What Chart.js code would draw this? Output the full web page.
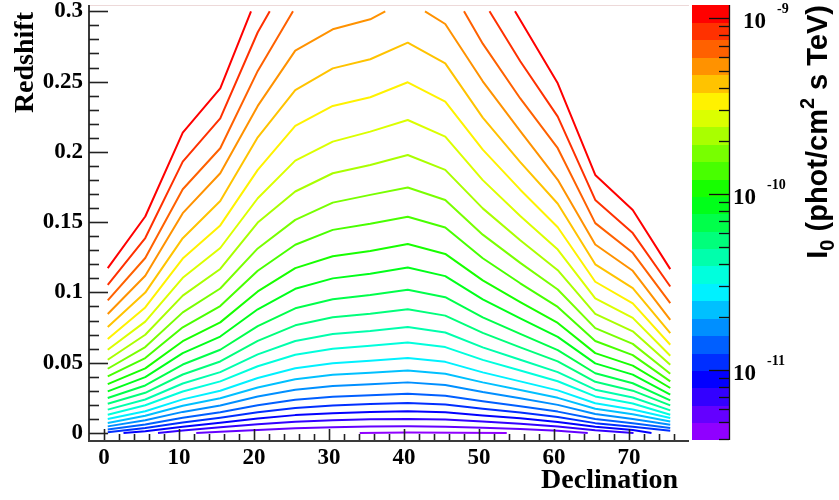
<!DOCTYPE html>
<html><head><meta charset="utf-8">
<script src="https://cdn.jsdelivr.net/npm/chart.js@4.4.1/dist/chart.umd.min.js"></script>
<style>html,body{margin:0;padding:0;background:#fff}</style>
</head><body>
<canvas id="c" width="839" height="500"></canvas>
<script>
// ---------------- DATA ----------------
const declNodes = [0.5,5.5,10.5,15.5,20.5,25.5,30.5,35.5,40.5,45.5,50.5,55.5,60.5,65.5,70.5,75.5];
const xTicks = [0,10,20,30,40,50,60,70];
const yTicks = [0,0.05,0.1,0.15,0.2,0.25,0.3];
const yTickLabels = ['0','0.05','0.1','0.15','0.2','0.25','0.3'];
const cbMajorTicks = [1e-11,1e-10,1e-9];
const cbExponents = ['-11','-10','-9'];
const cbMinorTicks = [4e-12,5e-12,6e-12,7e-12,8e-12,9e-12,2e-11,3e-11,4e-11,5e-11,6e-11,7e-11,8e-11,9e-11,2e-10,3e-10,4e-10,5e-10,6e-10,7e-10,8e-10,9e-10];
// contour levels of I0 (phot/cm^2 s TeV), bottom to top (26 edges, 25 bands)
const levels = [3.97e-12,4.99e-12,6.27e-12,7.87e-12,9.89e-12,1.242e-11,1.563e-11,1.963e-11,2.466e-11,3.097e-11,3.89e-11,4.89e-11,6.14e-11,7.71e-11,9.68e-11,1.216e-10,1.528e-10,1.919e-10,2.41e-10,3.03e-10,3.80e-10,4.78e-10,6.01e-10,7.55e-10,9.48e-10,1.191e-9];

// contour lines, highest level first: [declination, redshift] pairs (null = break)
const contour01 = [[0.5,.1173],[5.5,.154],[10.5,.2137],[15.5,.2452],[19.6,.3],[37,null],[54.8,.3],[60.5,.2488],[65.5,.1836],[70.5,.1587],[75.5,.1166]];
const contour02 = [[0.5,.1054],[5.5,.1387],[10.5,.1931],[15.5,.2239],[20.5,.2851],[22.1,.3],[37,null],[51.4,.3],[55.5,.2645],[60.5,.2251],[65.5,.1658],[70.5,.1422],[75.5,.1042]];
const contour03 = [[0.5,.0943],[5.5,.1245],[10.5,.1734],[15.5,.2026],[20.5,.2576],[25.2,.3],[37,null],[48.0,.3],[50.5,.277],[55.5,.238],[60.5,.2026],[65.5,.1493],[70.5,.1282],[75.5,.0924]];
const contour04 = [[0.5,.0846],[5.5,.1119],[10.5,.1564],[15.5,.1848],[20.5,.2327],[25.5,.2720],[30.5,.2872],[35.5,.2943],[37.5,.3],[40,null],[42.8,.3],[45.5,.291],[50.5,.2502],[55.5,.2148],[60.5,.1801],[65.5,.1341],[70.5,.1154],[75.5,.0805]];
// values at declNodes
const contour05 = [.0754,.0999,.1386,.1651,.2104,.2440,.2594,.2659,.2777,.2630,.2244,.1927,.1631,.1200,.1031,.0711];
const contour06 = [.0668,.0893,.1241,.1477,.1872,.2185,.2327,.2389,.2495,.2357,.2016,.1731,.1464,.1076,.0922,.0628];
const contour07 = [.0592,.0792,.1104,.1316,.1670,.1938,.2073,.2144,.2227,.2108,.1799,.1544,.1305,.0958,.0819,.0549];
const contour08 = [.0521,.0699,.0977,.1167,.1497,.1718,.1848,.1907,.1978,.1872,.1598,.1371,.1158,.0848,.0723,.0486];
const contour09 = [.0457,.0611,.0858,.1028,.1313,.1516,.1639,.1694,.1746,.1658,.1411,.1210,.1021,.0746,.0634,.0422];
const contour10 = [.0402,.0533,.0752,.0903,.1154,.1339,.1445,.1488,.1538,.1462,.1243,.1065,.0897,.0654,.0554,.0367];
const contour11 = [.0348,.0460,.0653,.0787,.1007,.1173,.1257,.1294,.1344,.1274,.1086,.0931,.0783,.0568,.0479,.0320];
const contour12 = [.0296,.0397,.0568,.0686,.0880,.1026,.1100,.1133,.1177,.1116,.0951,.0815,.0684,.0495,.0415,.0272];
const contour13 = [.0249,.0338,.0487,.0592,.0760,.0887,.0952,.0981,.1019,.0966,.0823,.0705,.0590,.0425,.0354,.0232];
const contour14 = [.0208,.0286,.0416,.0509,.0655,.0766,.0823,.0848,.0881,.0835,.0712,.0609,.0509,.0364,.0301,.0196];
const contour15 = [.0166,.0238,.0352,.0433,.0559,.0654,.0704,.0726,.0754,.0715,.0609,.0521,.0433,.0308,.0252,.0161];
const contour16 = [.0130,.0197,.0295,.0367,.0475,.0557,.0600,.0620,.0644,.0611,.0520,.0444,.0368,.0260,.0210,.0130];
const contour17 = [.0100,.0155,.0239,.0300,.0391,.0460,.0496,.0514,.0533,.0506,.0431,.0367,.0303,.0211,.0167,.0107];
const contour18 = [.0071,.0122,.0194,.0247,.0324,.0382,.0414,.0429,.0445,.0422,.0360,.0306,.0250,.0172,.0133,.0082];
const contour19 = [.0047,.0090,.0150,.0196,.0259,.0308,.0334,.0347,.0360,.0342,.0291,.0247,.0200,.0135,.0100,.0059];
const contour20 = [.0024,.0060,.0109,.0148,.0198,.0236,.0258,.0269,.0279,.0265,.0225,.0190,.0152,.0099,.0069,.0036];
const contour21 = [.0005,.0035,.0075,.0108,.0147,.0178,.0196,.0206,.0213,.0203,.0172,.0145,.0113,.0070,.0044,.0016];
const contour22 = [[2.6,0],[5.5,.0013],[10.5,.0045],[15.5,.0073],[20.5,.0103],[25.5,.0127],[30.5,.0141],[35.5,.0149],[40.5,.0154],[45.5,.0147],[50.5,.0124],[55.5,.0104],[60.5,.0078],[65.5,.0044],[70.5,.0021],[73.0,0]];
const contour23 = [[7.2,0],[10.5,.0017],[15.5,.0040],[20.5,.0062],[25.5,.0079],[30.5,.0090],[35.5,.0097],[40.5,.0100],[45.5,.0096],[50.5,.0081],[55.5,.0066],[60.5,.0046],[65.5,.0020],[70.6,0]];
const contour24 = [[12.3,0],[15.5,.0008],[20.5,.0021],[25.5,.0033],[30.5,.0040],[35.5,.0046],[40.5,.0047],[45.5,.0045],[50.5,.0038],[55.5,.0029],[60.5,.0015],[64.5,0]];
const contour25 = [[34.1,0],[40.5,.0003],[53.7,0]];

// ---------------- STYLE ----------------
const bandColors = ['#ff0000','#ff3100','#ff6100','#ff9200','#ffc300','#fff200','#dbff00','#a9ff00','#78ff00','#48ff00','#17ff00','#00ff1a','#00ff4a','#00ff7b','#00ffac','#00ffdd','#00f1ff','#00c0ff','#008fff','#005fff','#002eff','#0300ff','#3300ff','#6400ff','#9000ff'];

const contours = [contour01,contour02,contour03,contour04,contour05,contour06,contour07,contour08,contour09,contour10,contour11,contour12,contour13,contour14,contour15,contour16,contour17,contour18,contour19,contour20,contour21,contour22,contour23,contour24,contour25];

function toPoints(c){
  if (typeof c[0] === 'number') return c.map((z,i)=>({x:declNodes[i], y:z}));
  return c.map(p=>({x:p[0], y:p[1]}));
}
const datasets = contours.map((c,i)=>({
  data: toPoints(c), showLine:true, borderColor:bandColors[i], borderWidth:2,
  pointRadius:0, pointHoverRadius:0, spanGaps:false, tension:0, fill:false,
  borderJoinStyle:'round', borderCapStyle:'butt'
}));

const SERIF = '"Liberation Serif", "Times New Roman", serif';
const SANS = '"Liberation Sans", Arial, sans-serif';

const rootLook = {
  id:'rootLook',
  afterDraw(chart){
    const ctx = chart.ctx, a = chart.chartArea;
    const xs = chart.scales.x, ys = chart.scales.y, cb = chart.scales.cb;
    ctx.save();
    // faint top frame
    ctx.strokeStyle = 'rgba(215,170,170,0.45)'; ctx.lineWidth = 1;
    ctx.beginPath(); ctx.moveTo(a.left, a.top+0.5); ctx.lineTo(a.right, a.top+0.5); ctx.stroke();
    // axes
    ctx.strokeStyle = '#3a3a3a'; ctx.lineWidth = 2;
    ctx.beginPath(); ctx.moveTo(a.left, a.top); ctx.lineTo(a.left, a.bottom+1); ctx.lineTo(a.right, a.bottom+1); ctx.stroke();
    ctx.lineWidth = 1.6; ctx.strokeStyle = '#222';
    // y ticks
    for (let v = 0; v <= 30; v++) {
      const y = Math.round(ys.getPixelForValue(v/100)) + 0.5;
      const len = (v % 5 === 0) ? 19 : 10;
      ctx.beginPath(); ctx.moveTo(a.left, y); ctx.lineTo(a.left+len, y); ctx.stroke();
    }
    // x ticks
    for (let v = 0; v <= 76; v += 2) {
      const x = Math.round(xs.getPixelForValue(v)) + 0.5;
      const len = (v % 10 === 0) ? 11 : 6;
      ctx.beginPath(); ctx.moveTo(x, a.bottom); ctx.lineTo(x, a.bottom-len); ctx.stroke();
    }
    // colour bar
    const bx0 = 692, bx1 = 729;
    for (let i = 0; i < levels.length-1; i++) {
      const y0 = cb.getPixelForValue(levels[i]);
      const y1 = cb.getPixelForValue(levels[i+1]);
      ctx.fillStyle = bandColors[bandColors.length-1-i];
      ctx.fillRect(bx0, Math.floor(y1), bx1-bx0, Math.ceil(y0)-Math.floor(y1));
    }
    ctx.strokeStyle = '#111'; ctx.lineWidth = 1.3;
    ctx.beginPath(); ctx.moveTo(bx1+0.5, a.top); ctx.lineTo(bx1+0.5, a.bottom); ctx.stroke();
    cbMinorTicks.forEach(v=>{
      const y = Math.round(cb.getPixelForValue(v))+0.5;
      ctx.beginPath(); ctx.moveTo(bx1, y); ctx.lineTo(bx1-10, y); ctx.stroke();
    });
    const labX = [733, 733, 743];
    cbMajorTicks.forEach((v,i)=>{
      const y = Math.round(cb.getPixelForValue(v))+0.5;
      ctx.beginPath(); ctx.moveTo(bx1, y); ctx.lineTo(bx1-20, y); ctx.stroke();
      ctx.fillStyle = '#000';
      ctx.font = 'bold 23px ' + SERIF; ctx.textAlign = 'left'; ctx.textBaseline = 'alphabetic';
      ctx.fillText('10', labX[i], y + 9.5);
      ctx.font = 'bold 14px ' + SERIF; ctx.textBaseline = 'top';
      ctx.fillText(cbExponents[i], labX[i] + 34, y - 16.5);
    });
    // axis titles
    ctx.fillStyle = '#000';
    ctx.font = 'bold 28px ' + SERIF; ctx.textBaseline = 'alphabetic';
    ctx.textAlign = 'right';
    ctx.fillText('Declination', 678, 488);
    ctx.save();
    ctx.translate(33, 12); ctx.rotate(-Math.PI/2);
    ctx.textAlign = 'right'; ctx.fillText('Redshift', 0, 0);
    ctx.restore();
    // colour bar title
    const main = 'bold 29px ' + SANS, small = 'bold 20px ' + SANS;
    const parts = [['I',main,0],['0',small,7],[' (phot/cm',main,0],['2',small,-13],[' s TeV)',main,0]];
    let total = 0;
    parts.forEach(p=>{ ctx.font = p[1]; total += ctx.measureText(p[0]).width; });
    ctx.save();
    ctx.translate(827, 5 + total); ctx.rotate(-Math.PI/2);
    ctx.textAlign = 'left'; ctx.textBaseline = 'alphabetic';
    let px = 0;
    parts.forEach(p=>{ ctx.font = p[1]; ctx.fillText(p[0], px, p[2]); px += ctx.measureText(p[0]).width; });
    ctx.restore();
    ctx.restore();
  }
};

new Chart(document.getElementById('c'), {
  type:'scatter',
  data:{datasets},
  options:{
    responsive:false, animation:false, events:[],
    layout:{padding:{top:5,left:0,right:0,bottom:0}},
    plugins:{legend:{display:false}, tooltip:{enabled:false}},
    scales:{
      x:{type:'linear', min:-2, max:78,
         afterBuildTicks:s=>{ s.ticks = xTicks.map(v=>({value:v})); },
         afterFit:s=>{ s.height = 60; s.paddingLeft = 0; s.paddingRight = 0; },
         grid:{display:false, drawTicks:false}, border:{display:false},
         ticks:{color:'#000', font:{family:SERIF, weight:'bold', size:23}, padding:4, maxRotation:0, autoSkip:false}},
      y:{type:'linear', min:-0.005, max:0.3045,
         afterBuildTicks:s=>{ s.ticks = yTicks.map(v=>({value:v})); },
         afterFit:s=>{ s.width = 89; s.paddingTop = 0; s.paddingBottom = 0; },
         grid:{display:false, drawTicks:false}, border:{display:false},
         ticks:{color:'#000', font:{family:SERIF, weight:'bold', size:23}, padding:6, autoSkip:false,
                callback:(v,i)=>yTickLabels[i]}},
      cb:{type:'logarithmic', position:'right', min:levels[0], max:levels[levels.length-1],
         afterFit:s=>{ s.width = 150; s.paddingTop = 0; s.paddingBottom = 0; },
         grid:{display:false, drawTicks:false}, border:{display:false}, ticks:{display:false}}
    }
  },
  plugins:[rootLook]
});
</script>
</body></html>
